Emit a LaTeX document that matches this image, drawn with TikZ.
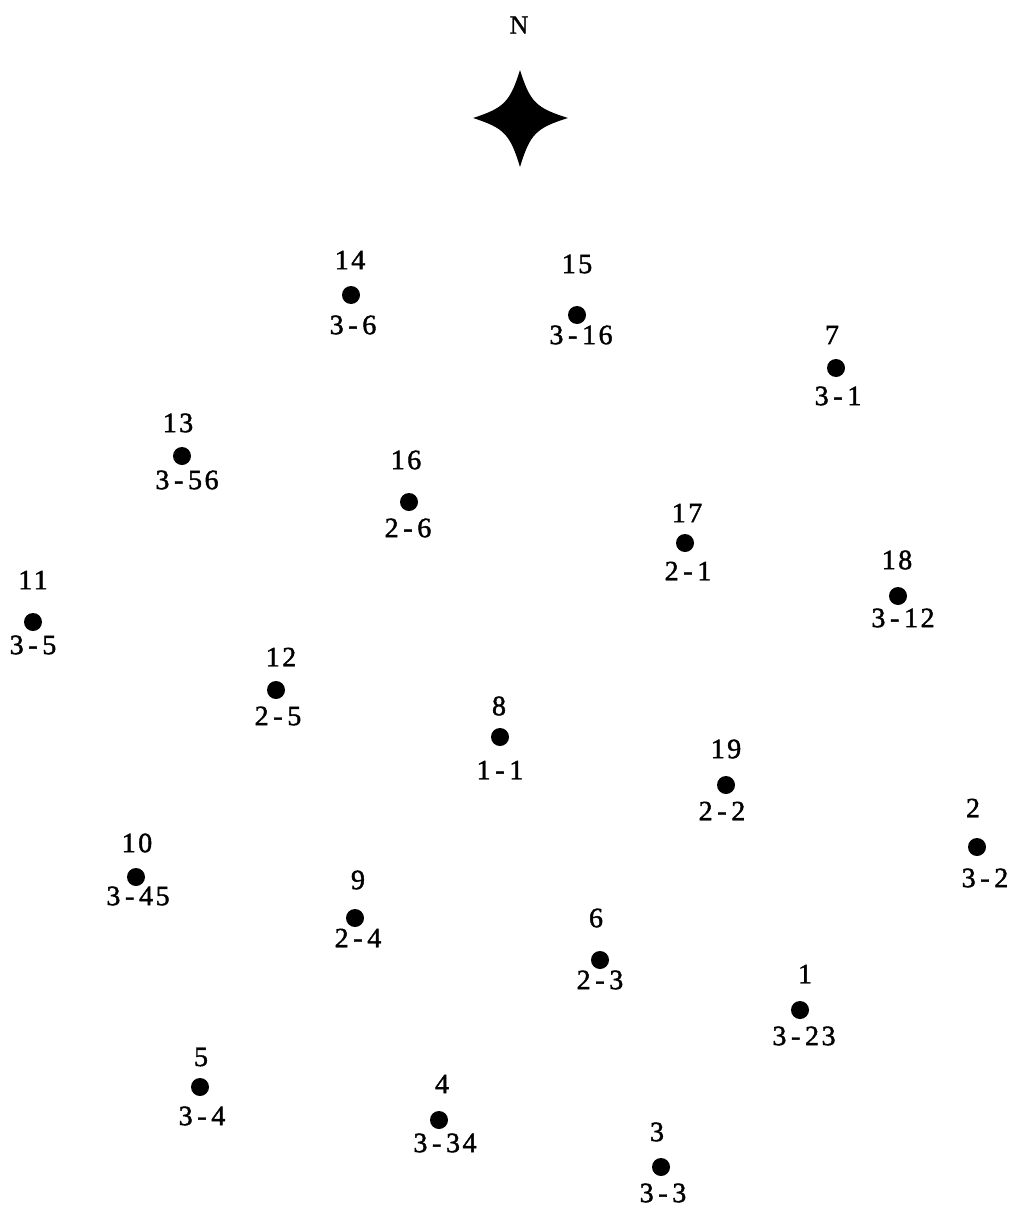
\documentclass[tikz,border=0pt]{standalone}
\usepackage{fontspec}
\setmainfont{Liberation Serif}
\newfontfamily\lblfont[LetterSpace=9,FakeBold=1.5]{Liberation Serif}
\newfontfamily\nfont[FakeBold=1]{Liberation Serif}
\begin{document}
\begin{tikzpicture}[x=1pt,y=-1pt,
  dot/.style={circle,fill=black,inner sep=0pt,minimum size=18pt},
  lbl/.style={inner sep=0pt,font=\lblfont\fontsize{28}{30}\selectfont},
  nlbl/.style={inner sep=0pt,font=\nfont\fontsize{26}{28}\selectfont}]
\useasboundingbox (0,0) rectangle (1014,1207);
\node[nlbl] (N) at (519,25) {N};
\fill (520,70) .. controls (530,102) and (536,108) .. (568,118)
  .. controls (536,128) and (530,134) .. (520,167)
  .. controls (510,134) and (504,128) .. (473,118)
  .. controls (504,108) and (510,102) .. (520,70) -- cycle;
\newcommand{\station}[8]{%
  \node[dot] (d#1) at (#2,#3) {};
  \node[lbl] (t#1) at (#4,#5) {#1};
  \node[lbl] (b#1) at (#6,#7) {#8};}
\station{14}{351}{295}{350}{260}{353}{325}{3\,-\,6}
\station{15}{577}{315}{577}{264}{581}{335}{3\,-\,16}
\station{7}{836}{368}{832}{335}{838}{396}{3\,-\,1}
\station{13}{182}{456}{178}{423}{187}{480}{3\,-\,56}
\station{16}{409}{502}{406}{460}{408}{528}{2\,-\,6}
\station{17}{685}{543}{687}{513}{688}{571}{2\,-\,1}
\station{18}{898}{596}{897}{560}{903}{618}{3\,-\,12}
\station{11}{33}{622}{33}{580}{33}{645}{3\,-\,5}
\station{12}{276}{690}{281}{657}{278}{716}{2\,-\,5}
\station{8}{500}{737}{499}{706}{500}{770}{1\,-\,1}
\station{19}{726}{785}{726}{749}{722}{811}{2\,-\,2}
\station{2}{977}{847}{973}{808}{985}{878}{3\,-\,2}
\station{10}{136}{877}{137}{843}{138}{896}{3\,-\,45}
\station{9}{355}{918}{358}{880}{358}{938}{2\,-\,4}
\station{6}{600}{960}{596}{918}{600}{980}{2\,-\,3}
\station{1}{800}{1010}{805}{974}{804}{1036}{3\,-\,23}
\station{5}{200}{1087}{201}{1057}{202}{1116}{3\,-\,4}
\station{4}{439}{1120}{442}{1084}{445}{1143}{3\,-\,34}
\station{3}{661}{1167}{657}{1132}{663}{1193}{3\,-\,3}
\end{tikzpicture}
\end{document}
